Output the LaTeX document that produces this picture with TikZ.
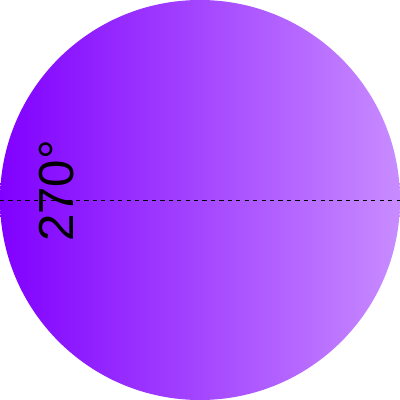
\documentclass[tikz,border=0pt]{standalone}
\usepackage{fontspec}
\setmainfont{Liberation Sans}
\definecolor{violetL}{RGB}{128,0,255}
\definecolor{violetR}{RGB}{200,140,255}
\begin{document}
\begin{tikzpicture}[
  x=0.025cm, y=0.025cm,
  disc/.style={left color=violetL, right color=violetR, draw=none},
  axisline/.style={dashed, draw=black, line width=0.6pt},
  anglelabel/.style={font=\fontsize{35}{35}\selectfont, rotate=90, inner sep=0pt}
]
  \useasboundingbox (0,0) rectangle (400,400);

  % disco con degradado horizontal
  \shade[disc] (200,200) circle (200);

  % eje horizontal
  \coordinate (west) at (0,200);
  \coordinate (east) at (400,200);
  \draw[axisline] (west) -- (east);

  % Etiqueta
  \node[anglelabel] (angle) at (57,209) {270°};
\end{tikzpicture}
\end{document}
